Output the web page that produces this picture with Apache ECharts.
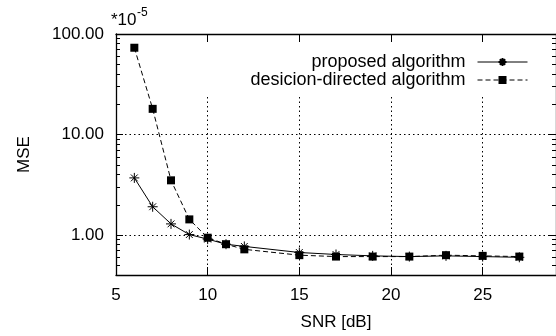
<!DOCTYPE html>
<html>
<head>
<meta charset="utf-8">
<script src="https://cdn.jsdelivr.net/npm/echarts@6/dist/echarts.min.js"></script>
<style>
html,body{margin:0;padding:0;background:#fff;}
#c{width:556px;height:336px;}
</style>
</head>
<body>
<div id="c"></div>
<script>
var snr = [6, 7, 8, 9, 10, 11, 12, 15, 17, 19, 21, 23, 25, 27];
var proposed = [3.7, 1.91, 1.29, 1.01, 0.91, 0.81, 0.77, 0.67, 0.64, 0.62, 0.61, 0.62, 0.61, 0.60];
var decisionDirected = [73, 18, 3.5, 1.43, 0.94, 0.81, 0.72, 0.63, 0.61, 0.61, 0.61, 0.63, 0.62, 0.61];
var xTickLabels = [5, 10, 15, 20, 25];
var xInnerTicks = [10, 15, 20, 25];
var yMajor = [1, 10, 100];
var yMinor = [0.4, 0.5, 0.6, 0.7, 0.8, 0.9, 2, 3, 4, 5, 6, 7, 8, 9, 20, 30, 40, 50, 60, 70, 80, 90];
var seriesNames = ['proposed algorithm', 'desicion-directed algorithm'];

function pairs(xs, ys) { return xs.map(function (x, i) { return [x, ys[i]]; }); }

var FONT = 'Liberation Sans, Arial, Helvetica, sans-serif';
var starPath = 'path://M5,0L5,10M0,5L10,5M1.6,1.6L8.4,8.4M1.6,8.4L8.4,1.6';

function yAxisDef(pos, vals, len, major) {
  return {
    type: 'log', logBase: 10, min: 0.4, max: 100, position: pos,
    axisLine: { show: major, lineStyle: { color: '#000', width: 1.3 } },
    axisTick: { show: true, inside: true, length: len, customValues: vals, lineStyle: { color: '#000', width: 1 } },
    axisLabel: (major && pos === 'left') ? {
      show: true, customValues: yMajor, margin: 12, color: '#000', fontSize: 17, fontFamily: FONT,
      formatter: function (v) { return Number(v).toFixed(2); }
    } : { show: false },
    splitLine: (major && pos === 'left') ? { show: true, lineStyle: { color: '#000', type: [1.5, 3], width: 1 } } : { show: false },
    minorTick: { show: false }, minorSplitLine: { show: false }
  };
}

var chart = echarts.init(document.getElementById('c'), null, { renderer: 'canvas' });
chart.setOption({
  animation: false,
  backgroundColor: '#fff',
  grid: { left: 116, top: 34, width: 441, height: 245, containLabel: false },
  xAxis: [
    {
      type: 'value', min: 5, max: 29, position: 'bottom',
      name: 'SNR [dB]', nameLocation: 'middle', nameGap: 39,
      nameTextStyle: { color: '#000', fontSize: 17, fontFamily: FONT },
      axisLine: { show: true, lineStyle: { color: '#000', width: 1.3 } },
      axisTick: { show: true, inside: true, length: 8, customValues: xInnerTicks, lineStyle: { color: '#000', width: 1 } },
      axisLabel: { show: true, customValues: xTickLabels, margin: 12, color: '#000', fontSize: 17, fontFamily: FONT },
      splitLine: { show: true, lineStyle: { color: '#000', type: [1.5, 3], width: 1 } }
    },
    {
      type: 'value', min: 5, max: 29, position: 'top',
      axisLine: { show: true, lineStyle: { color: '#000', width: 1.3 } },
      axisTick: { show: true, inside: true, length: 8, customValues: xInnerTicks, lineStyle: { color: '#000', width: 1 } },
      axisLabel: { show: false },
      splitLine: { show: false }
    }
  ],
  yAxis: [
    Object.assign(yAxisDef('left', yMajor, 7, true), {
      name: 'MSE', nameLocation: 'middle', nameGap: 83, nameRotate: 90,
      nameTextStyle: { color: '#000', fontSize: 17, fontFamily: FONT }
    }),
    yAxisDef('left', yMinor, 4, false),
    yAxisDef('right', yMajor, 7, true),
    yAxisDef('right', yMinor, 4, false)
  ],
  graphic: [
    { type: 'text', left: 111, top: 12, style: { text: '*10', fontSize: 17, fontFamily: FONT, fill: '#000' } },
    { type: 'text', left: 137, top: 7, style: { text: '-5', fontSize: 12, fontFamily: FONT, fill: '#000' } }
  ],
  legend: {
    orient: 'vertical', align: 'right', right: 16, top: 43,
    padding: [10, 12, 6, 60], itemGap: 0, itemWidth: 50, itemHeight: 10,
    backgroundColor: '#fff',
    lineStyle: { width: 1 },
    textStyle: { color: '#000', fontSize: 18, lineHeight: 16, fontFamily: FONT, padding: [0, 7, 0, 0] },
    data: seriesNames
  },
  series: [
    {
      name: seriesNames[0], type: 'line', xAxisIndex: 0, yAxisIndex: 0,
      data: pairs(snr, proposed),
      symbol: starPath, symbolSize: 10,
      lineStyle: { color: '#000', width: 1, type: 'solid' },
      itemStyle: { color: 'rgba(0,0,0,0)', borderColor: '#000', borderWidth: 1 },
      z: 3
    },
    {
      name: seriesNames[1], type: 'line', xAxisIndex: 0, yAxisIndex: 0,
      data: pairs(snr, decisionDirected),
      symbol: 'rect', symbolSize: 8,
      lineStyle: { color: '#000', width: 1, type: [5, 3] },
      itemStyle: { color: '#000', borderWidth: 0 },
      z: 4
    }
  ]
});
</script>
</body>
</html>
